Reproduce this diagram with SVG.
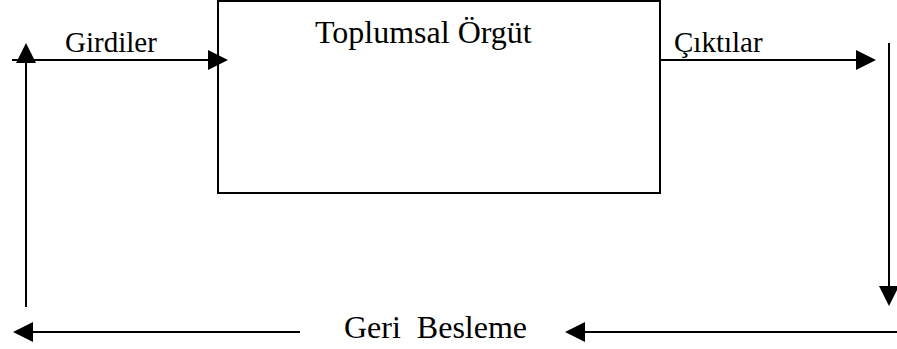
<svg xmlns="http://www.w3.org/2000/svg" width="897" height="349" viewBox="0 0 897 349">
  <style>
    .ln { stroke: #000; stroke-width: 2; fill: none; marker-end: url(#ah); }
    .box { fill: #fff; stroke: #000; stroke-width: 2; }
    .lbl { font-family: "Liberation Serif", "Times New Roman", serif; fill: #000; }
  </style>
  <defs>
    <marker id="ah" viewBox="0 0 20 20" refX="0" refY="10" markerWidth="20" markerHeight="20" markerUnits="userSpaceOnUse" orient="auto">
      <path d="M0,0 L20,10 L0,20 Z" fill="#000"/>
    </marker>
  </defs>
  <rect x="0" y="0" width="897" height="349" fill="#fff"/>
  <g id="node-toplumsal-orgut">
    <rect class="box" x="218" y="1" width="442" height="192"/>
    <text class="lbl" x="315" y="43" font-size="32">Toplumsal Örgüt</text>
  </g>
  <g id="connectors">
    <path class="ln" d="M12,60 H208"/>
    <path class="ln" d="M660,60 H856"/>
    <path class="ln" d="M889,43 V286"/>
    <path class="ln" d="M897,332 H585"/>
    <path class="ln" d="M300,332 H33"/>
    <path class="ln" d="M26,307 V63"/>
    <text class="lbl" x="65" y="52" font-size="29">Girdiler</text>
    <text class="lbl" x="674" y="52" font-size="29">Çıktılar</text>
    <text class="lbl" x="344" y="338" font-size="32" xml:space="preserve">Geri  Besleme</text>
  </g>
</svg>
